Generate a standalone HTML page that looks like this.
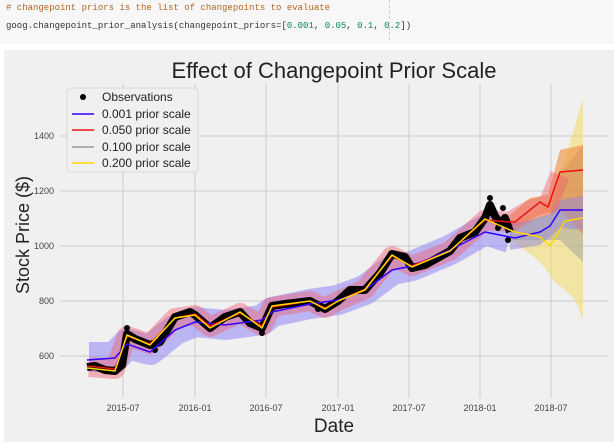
<!DOCTYPE html>
<html><head><meta charset="utf-8"><style>
body{margin:0;width:614px;height:446px;background:#fff;overflow:hidden;font-family:"Liberation Sans",sans-serif}
.code{position:absolute;left:0;top:0;width:614px;height:44px;background:#f7f7f7;font-family:"Liberation Mono",monospace;font-size:9px}
</style></head><body>
<div class="code">
<div style="position:absolute;left:6px;top:3px;color:#b5651d"># changepoint priors is the list of changepoints to evaluate</div>
<div style="position:absolute;left:6px;top:21px;color:#333">goog.changepoint_prior_analysis(changepoint_priors=[<span style="color:#098658">0.001</span>, <span style="color:#098658">0.05</span>, <span style="color:#098658">0.1</span>, <span style="color:#098658">0.2</span>])</div>
<div style="position:absolute;left:389px;top:0;height:40px;border-left:1px dashed #ccc"></div>
</div>
<svg width="614" height="446" style="position:absolute;left:0;top:0">
<rect x="4" y="50" width="610" height="392" fill="#f0f0f0"/>
<g stroke="#cbcbcb" stroke-width="1">
<line x1="60" x2="608" y1="356" y2="356"/><line x1="60" x2="608" y1="301" y2="301"/><line x1="60" x2="608" y1="246" y2="246"/><line x1="60" x2="608" y1="191" y2="191"/><line x1="60" x2="608" y1="136" y2="136"/>
<line x1="123" x2="123" y1="84" y2="398"/><line x1="195" x2="195" y1="84" y2="398"/><line x1="266" x2="266" y1="84" y2="398"/><line x1="338" x2="338" y1="84" y2="398"/><line x1="409" x2="409" y1="84" y2="398"/><line x1="480" x2="480" y1="84" y2="398"/><line x1="551" x2="551" y1="84" y2="398"/>
</g>
<g font-size="9" fill="#444" text-anchor="end"><text x="54" y="359">600</text><text x="54" y="304">800</text><text x="54" y="249">1000</text><text x="54" y="194">1200</text><text x="54" y="139">1400</text></g>
<g font-size="9" fill="#444" text-anchor="middle"><text x="123" y="411">2015-07</text><text x="195" y="411">2016-01</text><text x="266" y="411">2016-07</text><text x="338" y="411">2017-01</text><text x="409" y="411">2017-07</text><text x="480" y="411">2018-01</text><text x="551" y="411">2018-07</text></g>
<text x="334" y="432" font-size="19" fill="#222" text-anchor="middle">Date</text>
<text transform="translate(29,235) rotate(-90)" font-size="18" fill="#222" text-anchor="middle">Stock Price ($)</text>
<text x="334" y="78" font-size="22" fill="#222" text-anchor="middle">Effect of Changepoint Prior Scale</text>
<polygon points="510,225 530,215 550,200 565,160 583,98 583,320 575,300 565,290 555,282 540,262 525,250 510,240" fill="#f3dc70" opacity="0.6"/>
<polygon points="510,225 530,220 550,215 560,175 583,145 583,262 560,240 540,240 510,240" fill="#999" opacity="0.45"/>
<polygon points="510,215 530,198 548,195 560,150 583,145 583,235 560,210 540,215 510,228" fill="#f08a3a" opacity="0.6"/>
<polygon points="510,224 530,220 550,214 560,200 583,196 583,230 560,228 540,245 510,250" fill="#8f86e0" opacity="0.5"/>
<polyline fill="none" stroke="#8f86f5" stroke-opacity="0.55" stroke-width="30" stroke-linejoin="round" points="89,357 115,357 127,344 150,350 175,330 195,322 225,325 262,320 272,312 310,304 338,300 365,290 392,270 412,266 450,250 485,230 510,238"/>
<polyline fill="none" stroke="#f06070" stroke-opacity="0.45" stroke-width="20" stroke-linejoin="round" points="89,367 115,369 127,336 150,344 175,318 195,315 210,327 240,313 262,326 272,307 310,301 325,308 338,301 365,289 392,256 412,266 450,251 485,220 510,222 530,210 548,205 560,175"/>
<polyline fill="none" stroke="#000" stroke-width="8" stroke-linejoin="round" points="87,367 95,366 105,370 115,371 122,365 127,334 135,339 150,345 160,342 175,317 190,312 195,315 210,328 225,317 240,312 250,323 262,328 272,306 285,304 310,301 325,309 338,301 350,290 365,290 380,273 392,254 405,257 412,268 425,265 450,251 460,238 475,232 485,218 490,205 495,216 500,224 505,218 510,232"/>
<g fill="#000"><circle cx="155" cy="350" r="3"/><circle cx="127" cy="328" r="3"/><circle cx="318" cy="309" r="3"/><circle cx="262" cy="333" r="3"/><circle cx="490" cy="198" r="3"/><circle cx="498" cy="228" r="3"/><circle cx="508" cy="240" r="3"/><circle cx="503" cy="208" r="3"/></g>
<polyline fill="none" stroke="#3300ff" stroke-width="1.5" points="87,360 115,358 127,344 150,352 175,330 195,322 225,325 262,320 272,312 310,304 338,300 365,290 392,270 412,266 450,250 485,232 515,238 540,232 550,226 560,210 583,210"/>
<polyline fill="none" stroke="#ee1111" stroke-width="1.5" points="87,366 115,369 127,336 150,344 175,318 195,314 210,326 240,313 262,326 272,307 310,301 325,308 338,301 365,289 392,256 412,266 450,251 485,220 510,222 515,222 540,202 548,207 560,172 583,170"/>
<polyline fill="none" stroke="#ffd700" stroke-width="1.5" points="87,368 115,371 127,335 150,345 175,318 195,315 210,328 240,312 262,328 272,306 310,301 325,309 338,301 365,290 392,255 412,267 450,251 485,219 510,230 515,232 540,237 550,246 565,221 583,218"/>
<rect x="67" y="88" width="131" height="84" rx="3" fill="#f0f0f0" stroke="#d6d6d6" opacity="0.95"/>
<circle cx="83" cy="97" r="3" fill="#000"/>
<line x1="72" x2="94" y1="114" y2="114" stroke="#3300ff" stroke-width="1.5"/>
<line x1="72" x2="94" y1="130" y2="130" stroke="#ee1111" stroke-width="1.5"/>
<line x1="72" x2="94" y1="147" y2="147" stroke="#999" stroke-width="1.5"/>
<line x1="72" x2="94" y1="163" y2="163" stroke="#ffd700" stroke-width="1.5"/>
<g font-size="12" fill="#222"><text x="102" y="101">Observations</text><text x="102" y="118">0.001 prior scale</text><text x="102" y="134">0.050 prior scale</text><text x="102" y="151">0.100 prior scale</text><text x="102" y="167">0.200 prior scale</text></g>
</svg>
</body></html>
